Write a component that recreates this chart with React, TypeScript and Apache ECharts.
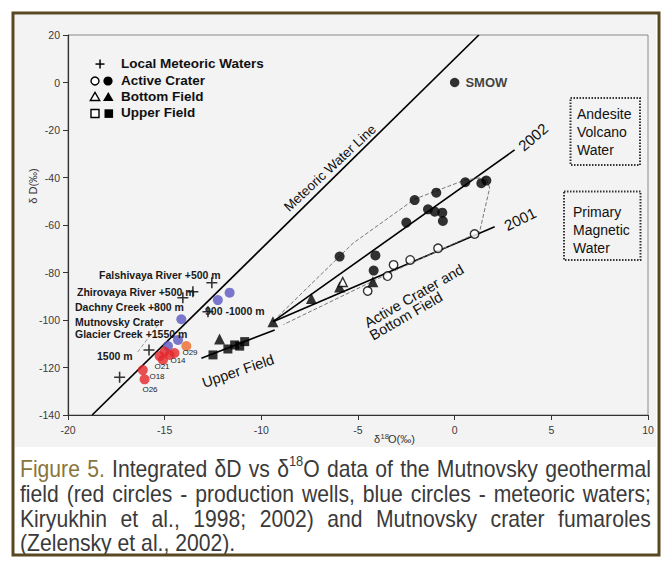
import React, { useEffect, useRef } from "react";
import * as echarts from "echarts";

// ---- axes ----
const X_MIN = -20;
const X_MAX = 10;
const X_STEP = 5;
const Y_MIN = -140;
const Y_MAX = 20;
const Y_STEP = 20;

// ---- lines (δ18O, δD) ----
const meteoricWaterLine = [[-18.75, -140], [1.25, 20]];
const trend2002 = [[-9.4, -100.7], [3.1, -28.4]];
const trend2001 = [[-9.4, -100.7], [2.07, -60.7]];
const trendUpperField = [[-13.1, -116.1], [-9.31, -104.2]];
const envelope = [
  [-9.15, -98.6], [-5.26, -67.7], [-2.07, -49.1], [0.52, -41.1], [1.6, -39.8],
  [1.81, -44.4], [1.29, -62.9], [-3.36, -80.2], [-8.85, -101.9],
];
const altitudeTrend = [[-16.4, -113.5], [-15.2, -100.5]];

// ---- points ----
const localMeteoric = [
  [-12.56, -84.3], [-13.54, -88.1], [-14.06, -90.6], [-12.76, -96.5], [-15.81, -112.6], [-17.33, -124.1],
];
const activeCrater2002 = [
  [0.55, -42.0], [1.38, -42.4], [1.64, -41.3], [-0.95, -46.4], [-2.07, -49.5], [-1.38, -53.4],
  [-1.03, -54.4], [-0.64, -54.8], [-0.61, -58.3], [-2.5, -59.0], [-5.95, -73.3], [-4.1, -72.8], [-4.19, -79.2],
];
const activeCrater2001 = [
  [1.03, -63.8], [-0.86, -69.8], [-2.3, -74.7], [-3.16, -76.8], [-3.47, -81.5], [-4.5, -87.8],
];
const bottomFieldFilled = [[-4.23, -83.9], [-5.95, -86.1], [-7.41, -90.9], [-9.4, -100.7], [-12.16, -108.0]];
const bottomFieldOpen = [[-5.79, -84.0]];
const upperFieldFilled = [[-12.5, -114.7], [-11.73, -112.2], [-11.38, -110.5], [-10.86, -109.1], [-11.12, -111.0]];
const meteoricBlue = [[-11.64, -88.5], [-12.25, -91.6], [-14.14, -99.7], [-14.31, -108.4], [-14.83, -111.0]];
const wellsRed = [
  [-15.0, -113.3], [-14.74, -114.7], [-15.26, -115.2], [-15.09, -116.8], [-14.49, -113.9], [-16.13, -121.1], [-16.04, -125.0],
];
const wellOrange = [[-13.88, -111.0]];
const smow = [[0, 0]];

// ---- texts ----
const CAPTION = [
  "Figure 5. Integrated δD vs δ18O data of the Mutnovsky geothermal",
  "field (red circles - production wells, blue circles - meteoric waters;",
  "Kiryukhin et al., 1998; 2002) and Mutnovsky crater fumaroles",
  "(Zelensky et al., 2002).",
];
const LEGEND_TEXTS = ["Local Meteoric Waters", "Active Crater", "Bottom Field", "Upper Field"];

const FONT = '"Liberation Sans", Arial, sans-serif';
const PLUS = "path://M0,4.3H10V5.7H0Z M4.3,0H5.7V10H4.3Z";

function T(text: string, x: number, y: number, o: any = {}) {
  const align = o.align || "left";
  const va = o.va || "middle";
  return {
    type: "text",
    x,
    y,
    rotation: o.rot || 0,
    scaleX: o.sx || 1,
    z: 50,
    silent: true,
    style: {
      text,
      fill: o.color || "#111",
      fontSize: o.size || 12,
      fontFamily: FONT,
      fontWeight: o.weight || "normal",
      align,
      verticalAlign: va,
      textAlign: align,
      textVerticalAlign: va,
    },
  };
}

function buildCaption(): any[] {
  const canvas = document.createElement("canvas");
  const ctx = canvas.getContext("2d")!;
  const SIZE = 23;
  const SUP = 14;
  const SX = 0.92;
  const LEFT = 20;
  const RIGHT = 651;
  const YS = [469, 494, 519, 543];
  const OLIVE = "#87763c";
  const GREY = "#3a3a3a";
  const mw = (t: string, s: number) => {
    ctx.font = `${s}px "Liberation Sans"`;
    return ctx.measureText(t).width * SX;
  };
  const out: any[] = [];
  CAPTION.forEach((line, li) => {
    const words = line.split(" ").map((w, wi) => {
      const color = li === 0 && wi < 2 ? OLIVE : GREY;
      const segs = w === "δ18O"
        ? [{ t: "δ", sup: false }, { t: "18", sup: true }, { t: "O", sup: false }]
        : [{ t: w, sup: false }];
      const widths = segs.map((s) => mw(s.t, s.sup ? SUP : SIZE));
      return { segs, widths, color, w: widths.reduce((a, b) => a + b, 0) };
    });
    const total = words.reduce((a, b) => a + b.w, 0);
    const last = li === CAPTION.length - 1;
    const gap = last ? mw(" ", SIZE) : (RIGHT - LEFT - total) / (words.length - 1);
    let x = LEFT;
    words.forEach((wd) => {
      let sx = x;
      wd.segs.forEach((s, si) => {
        out.push(
          T(s.t, sx, YS[li] + (s.sup ? -8 : 0), {
            size: s.sup ? SUP : SIZE,
            color: wd.color,
            sx: SX,
          })
        );
        sx += wd.widths[si];
      });
      x += wd.w + gap;
    });
  });
  return out;
}

function buildGraphics(): any[] {
  const g: any[] = [];
  // figure background and frame
  g.push({ type: "rect", z: -100, silent: true, shape: { x: 15, y: 15, width: 641, height: 432 }, style: { fill: "#f3f3f3" } });
  g.push({ type: "rect", z: 60, silent: true, shape: { x: 13, y: 13, width: 646, height: 542 }, style: { fill: "none", stroke: "#5a4820", lineWidth: 3 } });

  // legend
  g.push({ type: "rect", z: 50, shape: { x: 95.5, y: 63.3, width: 9, height: 1.5 }, style: { fill: "#000" } });
  g.push({ type: "rect", z: 50, shape: { x: 99.3, y: 59.5, width: 1.5, height: 9 }, style: { fill: "#000" } });
  g.push({ type: "circle", z: 50, shape: { cx: 95, cy: 81, r: 4 }, style: { fill: "#fff", stroke: "#000", lineWidth: 1.4 } });
  g.push({ type: "circle", z: 50, shape: { cx: 108, cy: 81, r: 4.6 }, style: { fill: "#000" } });
  g.push({ type: "polygon", z: 50, shape: { points: [[95, 92.3], [90.3, 100.5], [99.7, 100.5]] }, style: { fill: "#fff", stroke: "#000", lineWidth: 1.4 } });
  g.push({ type: "polygon", z: 50, shape: { points: [[108.3, 92], [103, 101], [113.6, 101]] }, style: { fill: "#000" } });
  g.push({ type: "rect", z: 50, shape: { x: 91, y: 109.5, width: 8, height: 8 }, style: { fill: "#fff", stroke: "#000", lineWidth: 1.4 } });
  g.push({ type: "rect", z: 50, shape: { x: 104.5, y: 109.3, width: 8.6, height: 8.6 }, style: { fill: "#000" } });
  const ly = [63, 80, 96.5, 112.5];
  LEGEND_TEXTS.forEach((t, i) => g.push(T(t, 121, ly[i], { size: 13.5, weight: "bold", color: "#111" })));

  // annotation labels near meteoric waters
  const lab = { size: 10.5, weight: "bold", color: "#1a1a1a" };
  g.push(T("Falshivaya River +500 m", 99, 275, lab));
  g.push(T("Zhirovaya River +500 m", 77, 291.5, lab));
  g.push(T("Dachny Creek +800 m", 75, 306.5, lab));
  g.push(T("Mutnovsky Crater", 75, 321.5, lab));
  g.push(T("Glacier Creek +1550 m", 75, 333.5, lab));
  g.push(T("1500 m", 97, 356, lab));
  g.push(T("900 -1000 m", 205, 311, lab));

  // well numbers
  const wl = { size: 8, color: "#222", align: "center" };
  g.push(T("O29", 190, 352, wl));
  g.push(T("O14", 178, 360, wl));
  g.push(T("O21", 162, 366, wl));
  g.push(T("O18", 157, 376, wl));
  g.push(T("O26", 150, 389, wl));

  // rotated labels
  g.push(T("Meteoric Water Line", 330, 168, { size: 13.5, align: "center", rot: (43 * Math.PI) / 180, color: "#111" }));
  g.push(T("2002", 533, 137, { size: 15, align: "center", rot: (41 * Math.PI) / 180, color: "#111" }));
  g.push(T("2001", 520, 219, { size: 15, align: "center", rot: (26 * Math.PI) / 180, color: "#111" }));
  g.push(T("Upper Field", 238, 371, { size: 14.5, align: "center", rot: (19 * Math.PI) / 180, color: "#111" }));
  g.push(T("Active Crater and", 414, 296, { size: 14.5, align: "center", rot: (30 * Math.PI) / 180, color: "#111" }));
  g.push(T("Bottom Field", 406, 316, { size: 14.5, align: "center", rot: (30 * Math.PI) / 180, color: "#111" }));

  // boxes
  g.push({ type: "rect", z: 50, shape: { x: 570.5, y: 98, width: 69.5, height: 67 }, style: { fill: "none", stroke: "#333", lineWidth: 2, lineDash: [1.5, 1.5] } });
  g.push(T("Andesite", 577, 113.5, { size: 14 }));
  g.push(T("Volcano", 577, 131.7, { size: 14 }));
  g.push(T("Water", 577, 150, { size: 14 }));
  g.push({ type: "rect", z: 50, shape: { x: 564, y: 191.5, width: 76.5, height: 68.5 }, style: { fill: "none", stroke: "#333", lineWidth: 2, lineDash: [1.5, 1.5] } });
  g.push(T("Primary", 573, 211.7, { size: 14 }));
  g.push(T("Magnetic", 573, 230, { size: 14 }));
  g.push(T("Water", 573, 248.3, { size: 14 }));

  // axis names
  g.push(T("δ", 374, 439, { size: 11, color: "#333" }));
  g.push(T("18", 380.5, 436, { size: 7.5, color: "#333" }));
  g.push(T("O(‰)", 388, 439, { size: 11, color: "#333" }));
  g.push(T("δ D(‰)", 33, 186, { size: 11, color: "#333", align: "center", rot: Math.PI / 2 }));

  return g.concat(buildCaption());
}

function lineSeries(data: number[][], o: any = {}) {
  return {
    type: "line",
    data,
    symbol: "none",
    silent: true,
    z: 3,
    lineStyle: { color: o.color || "#000", width: o.width || 1.6, type: o.type || "solid" },
  };
}

function scatter(data: number[][], symbol: string, size: number, itemStyle: any, extra: any = {}) {
  return { type: "scatter", data, symbol, symbolSize: size, itemStyle, z: 5, silent: true, ...extra };
}

export default function App() {
  const ref = useRef<HTMLDivElement>(null);
  useEffect(() => {
    document.body.style.margin = "0";
    const chart = echarts.init(ref.current!, null, { renderer: "svg" });
    const open = { color: "#fff", borderColor: "#000", borderWidth: 1.4 };
    chart.setOption({
      animation: false,
      backgroundColor: "#ffffff",
      textStyle: { fontFamily: FONT },
      grid: { left: 68, right: 22, top: 35, bottom: 151, show: true, borderColor: "#8a8a8a", borderWidth: 1, backgroundColor: "transparent" },
      xAxis: {
        type: "value",
        min: X_MIN,
        max: X_MAX,
        interval: X_STEP,
        axisLine: { show: true, onZero: false, lineStyle: { color: "#333", width: 1.2 } },
        axisTick: { show: true, length: 5, lineStyle: { color: "#333" } },
        axisLabel: { fontSize: 10.5, color: "#3a3a3a", margin: 9, showMinLabel: true, showMaxLabel: true },
        splitLine: { show: false },
      },
      yAxis: {
        type: "value",
        min: Y_MIN,
        max: Y_MAX,
        interval: Y_STEP,
        axisLine: { show: true, onZero: false, lineStyle: { color: "#333", width: 1.2 } },
        axisTick: { show: true, length: 5, lineStyle: { color: "#333" } },
        axisLabel: { fontSize: 10.5, color: "#3a3a3a", margin: 8, showMinLabel: true, showMaxLabel: true },
        splitLine: { show: false },
      },
      series: [
        lineSeries(meteoricWaterLine, { width: 1.7 }),
        lineSeries(trend2002),
        lineSeries(trend2001),
        lineSeries(trendUpperField),
        lineSeries(envelope, { color: "#777", width: 1, type: "dashed" }),
        lineSeries(altitudeTrend, { color: "#999", width: 1, type: "dashed" }),
        scatter(localMeteoric, PLUS, 11, { color: "#000" }),
        scatter(meteoricBlue, "circle", 10, { color: "#5a56c2" }),
        scatter(wellsRed, "circle", 10, { color: "#e3262a" }),
        scatter(wellOrange, "circle", 10, { color: "#ea6a2c" }),
        scatter(activeCrater2002, "circle", 10, { color: "#000" }),
        scatter(activeCrater2001, "circle", 8.5, open),
        scatter(bottomFieldFilled, "triangle", 11, { color: "#000" }),
        scatter(bottomFieldOpen, "triangle", 9, open),
        scatter(upperFieldFilled, "rect", 9, { color: "#000" }),
        scatter(smow, "circle", 9.5, { color: "#000" }, {
          label: { show: true, formatter: "SMOW", position: "right", distance: 6, fontSize: 13, fontWeight: "bold", color: "#111", fontFamily: FONT },
        }),
      ],
      graphic: { elements: buildGraphics() },
    });
    return () => chart.dispose();
  }, []);
  return <div ref={ref} style={{ width: 670, height: 566 }} />;
}
